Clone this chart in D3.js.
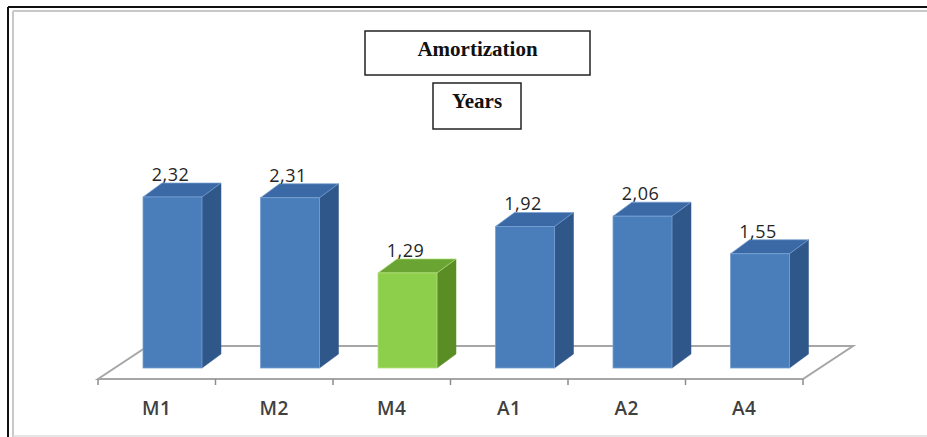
<!DOCTYPE html>
<html>
<head>
<meta charset="utf-8">
<title>Amortization</title>
<script src="https://d3js.org/d3.v7.min.js"></script>
<style>
  body { margin: 0; background: #fff; }
</style>
</head>
<body>
<div id="chart"></div>
<script type="text/javascript">
// chart data
var categories = ['M1', 'M2', 'M4', 'A1', 'A2', 'A4'];
var values = [2.32, 2.31, 1.29, 1.92, 2.06, 1.55];
var valueLabels = ['2,32', '2,31', '1,29', '1,92', '2,06', '1,55'];
var highlight = ['M4'];

var width = 927, height = 437;

var svg = d3.select('#chart').append('svg')
    .attr('width', width)
    .attr('height', height);

// outer frame
svg.append('line').attr('x1', 8).attr('y1', 7).attr('x2', width).attr('y2', 7)
    .attr('stroke', '#111').attr('stroke-width', 2);
svg.append('line').attr('x1', 8).attr('y1', 7).attr('x2', 8).attr('y2', height)
    .attr('stroke', '#111').attr('stroke-width', 2);
svg.append('line').attr('x1', 13).attr('y1', 11).attr('x2', width).attr('y2', 11)
    .attr('stroke', '#c8c8c8').attr('stroke-width', 2);
svg.append('line').attr('x1', 13).attr('y1', 11).attr('x2', 13).attr('y2', height)
    .attr('stroke', '#c8c8c8').attr('stroke-width', 2);
svg.append('line').attr('x1', 13).attr('y1', 436).attr('x2', width).attr('y2', 436)
    .attr('stroke', '#dcdcdc').attr('stroke-width', 1.5);

// title boxes
function titleBox(x, y, w, h, txt, base) {
  svg.append('rect').attr('x', x).attr('y', y).attr('width', w).attr('height', h)
      .attr('fill', '#fff').attr('stroke', '#222').attr('stroke-width', 1.5);
  svg.append('text').attr('x', x + w / 2).attr('y', base)
      .attr('text-anchor', 'middle')
      .style('font-family', '"Liberation Serif", "Times New Roman", serif')
      .style('font-weight', 'bold').style('font-size', '21px')
      .attr('fill', '#111').text(txt);
}
titleBox(365, 31, 225, 44, 'Amortization', 56);
titleBox(433, 83, 88, 46, 'Years', 108);

// scales
var x = d3.scaleBand().domain(categories).range([98, 803]).padding(0);
var y = d3.scaleLinear().domain([0, 2.5]).range([368, 368 - 2.5 * 73.7]);

var floorY = 379, depthX = 50, depthY = -33;
var barOff = 45, barW = 59, bx = 19, by = -14;

// floor
var g = svg.append('g');
var x0 = x.range()[0], x1 = x.range()[1];
g.append('path')
    .attr('d', 'M' + x0 + ',' + floorY + 'L' + (x0 + depthX) + ',' + (floorY + depthY) +
               'L' + (x1 + depthX) + ',' + (floorY + depthY) + 'L' + x1 + ',' + floorY + 'Z')
    .attr('fill', 'none').attr('stroke', '#a6a6a6').attr('stroke-width', 2);

// ticks at band edges
var edges = categories.map(function(c) { return x(c); }).concat([x1]);
g.selectAll('line.tick').data(edges).enter().append('line')
    .attr('class', 'tick')
    .attr('x1', function(d) { return d; }).attr('x2', function(d) { return d; })
    .attr('y1', floorY).attr('y2', floorY + 6)
    .attr('stroke', '#8c8c8c').attr('stroke-width', 1.5);

// category labels
g.selectAll('text.cat').data(categories).enter().append('text')
    .attr('class', 'cat')
    .attr('x', function(d) { return x(d) + x.bandwidth() / 2; })
    .attr('y', 415)
    .attr('text-anchor', 'middle')
    .style('font-family', '"Open Sans", sans-serif')
    .style('font-size', '19px')
    .style('font-weight', '600')
    .style('letter-spacing', '0.5px')
    .attr('fill', '#404040')
    .text(function(d) { return d; });

// colours
var blue = { front: '#4a7ebb', side: '#30578a', top: '#3b69a5', edge: '#79a0d2' };
var green = { front: '#8dcf4b', side: '#5a8d24', top: '#6aa534', edge: '#b3e07f' };

var bars = svg.selectAll('g.bar').data(categories).enter().append('g').attr('class', 'bar');

bars.each(function(c, i) {
  var b = d3.select(this);
  var col = highlight.indexOf(c) >= 0 ? green : blue;
  var left = x(c) + barOff, right = left + barW;
  var top = y(values[i]), bottom = y(0);
  // side face
  b.append('path')
      .attr('d', 'M' + right + ',' + bottom + 'L' + (right + bx) + ',' + (bottom + by) +
                 'L' + (right + bx) + ',' + (top + by) + 'L' + right + ',' + top + 'Z')
      .attr('fill', col.side).attr('stroke', col.side).attr('stroke-width', 0.5);
  // top face
  b.append('path')
      .attr('d', 'M' + left + ',' + top + 'L' + (left + bx) + ',' + (top + by) +
                 'L' + (right + bx) + ',' + (top + by) + 'L' + right + ',' + top + 'Z')
      .attr('fill', col.top).attr('stroke', col.edge).attr('stroke-width', 0.7);
  // front face
  b.append('rect')
      .attr('x', left).attr('y', top).attr('width', barW).attr('height', bottom - top)
      .attr('fill', col.front).attr('stroke', col.edge).attr('stroke-width', 0.8);
  // value label
  b.append('text')
      .attr('x', left + barW / 2 - 2)
      .attr('y', top - 16)
      .attr('text-anchor', 'middle')
      .style('font-family', '"Open Sans", sans-serif')
      .style('font-size', '18px')
      .style('letter-spacing', '0.5px')
      .attr('fill', '#262626')
      .text(valueLabels[i]);
});
</script>
</body>
</html>
